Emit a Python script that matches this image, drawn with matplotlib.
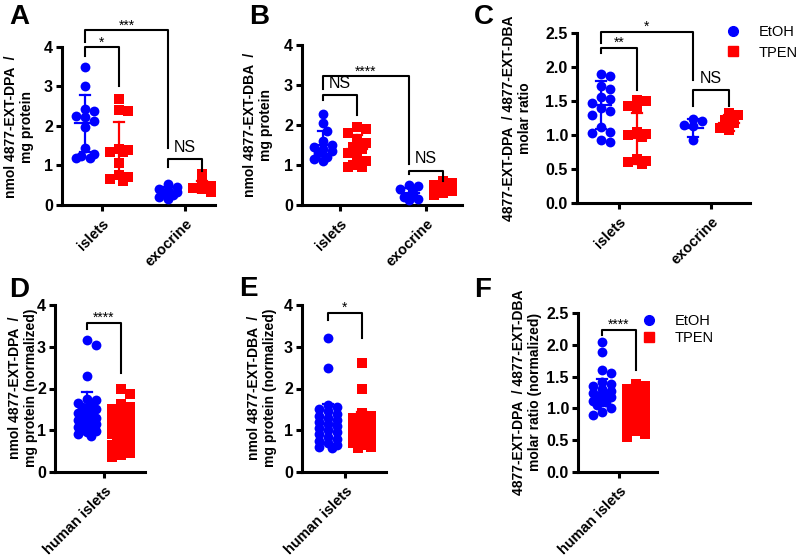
import numpy as np
import matplotlib.pyplot as plt
from matplotlib.lines import Line2D

plt.rcParams['font.family'] = ['Liberation Sans', 'DejaVu Sans']
plt.rcParams['font.weight'] = 'bold'

# ---- data ----
CATS_MOUSE = ["islets", "exocrine"]
CATS_HUMAN = ["human islets"]
GROUPS = ["EtOH", "TPEN"]

# A: nmol 4877-EXT-DPA / mg protein
A_ETOH_ISLETS = [3.5, 3.0, 2.42, 2.38, 2.25, 2.22, 2.12, 1.98, 1.45, 1.3, 1.25, 1.2, 1.18]
A_TPEN_ISLETS = [2.68, 2.4, 2.37, 1.43, 1.4, 1.35, 1.33, 1.06, 0.75, 0.7, 0.65, 0.6]
A_ETOH_EXO = [0.52, 0.46, 0.41, 0.37, 0.33, 0.3, 0.26, 0.21, 0.15]
A_TPEN_EXO = [0.78, 0.56, 0.48, 0.44, 0.4, 0.33]
A_ETOH_MEAN, A_ETOH_SD = [2.07, 0.34], [0.72, 0.11]
A_TPEN_MEAN, A_TPEN_SD = [1.40, 0.48], [0.71, 0.14]

# B: nmol 4877-EXT-DBA / mg protein
B_ETOH_ISLETS = [2.27, 2.05, 1.85, 1.6, 1.5, 1.45, 1.4, 1.35, 1.3, 1.2, 1.15, 1.1]
B_TPEN_ISLETS = [1.95, 1.9, 1.8, 1.65, 1.55, 1.45, 1.4, 1.3, 1.2, 1.1, 1.0, 0.95, 0.95]
B_ETOH_EXO = [0.5, 0.47, 0.4, 0.3, 0.2, 0.15, 0.12]
B_TPEN_EXO = [0.6, 0.55, 0.5, 0.45, 0.4, 0.35, 0.3, 0.25]
B_ETOH_MEAN, B_ETOH_SD = [1.5, 0.3], [0.36, 0.13]
B_TPEN_MEAN, B_TPEN_SD = [1.4, 0.42], [0.35, 0.1]

# C: DPA / DBA molar ratio
C_ETOH_ISLETS = [1.9, 1.87, 1.72, 1.67, 1.56, 1.53, 1.47, 1.4, 1.35, 1.3, 1.12, 1.05, 1.03, 0.92, 0.9]
C_TPEN_ISLETS = [1.52, 1.5, 1.43, 1.4, 1.05, 1.02, 1.0, 0.97, 0.65, 0.62, 0.6, 0.58]
C_ETOH_EXO = [1.23, 1.2, 1.15, 1.13, 0.92]
C_TPEN_EXO = [1.33, 1.3, 1.22, 1.18, 1.1, 1.08]
C_ETOH_MEAN, C_ETOH_SD = [1.44, 1.1], [0.35, 0.13]
C_TPEN_MEAN, C_TPEN_SD = [0.95, 1.18], [0.37, 0.12]

# D: human islets, DPA normalized
D_ETOH = [3.17, 3.03, 2.3, 1.75, 1.72, 1.65, 1.6, 1.55, 1.5, 1.45, 1.42, 1.4, 1.35, 1.3,
          1.28, 1.25, 1.2, 1.18, 1.15, 1.1, 1.08, 1.05, 1.0, 0.98, 0.95, 0.9, 0.87]
D_TPEN = [1.98, 1.87, 1.62, 1.55, 1.5, 1.45, 1.4, 1.35, 1.3, 1.25, 1.2, 1.15, 1.1, 1.05, 1.02,
          1.0, 0.97, 0.95, 0.9, 0.85, 0.8, 0.75, 0.7, 0.65, 0.6, 0.55, 0.5, 0.45, 0.4, 0.35]
D_MEAN, D_SD = [1.42, 1.0], [0.49, 0.4]

# E: human islets, DBA normalized
E_ETOH = [3.2, 2.5, 1.6, 1.55, 1.5, 1.45, 1.4, 1.35, 1.3, 1.25, 1.2, 1.15, 1.1, 1.05, 1.0,
          0.95, 0.9, 0.85, 0.8, 0.75, 0.7, 0.65, 0.6, 0.58]
E_TPEN = [2.6, 2.0, 1.42, 1.35, 1.3, 1.25, 1.2, 1.15, 1.1, 1.05, 1.0, 0.95, 0.9, 0.85, 0.8,
          0.75, 0.7, 0.65, 0.6, 0.57]
E_MEAN, E_SD = [1.15, 1.05], [0.49, 0.38]

# F: human islets, molar ratio normalized
F_ETOH = [2.05, 1.88, 1.6, 1.55, 1.42, 1.38, 1.35, 1.3, 1.28, 1.25, 1.22, 1.2, 1.18, 1.15,
          1.12, 1.1, 1.05, 1.0, 0.95, 0.9]
F_TPEN = [1.38, 1.35, 1.3, 1.25, 1.2, 1.15, 1.1, 1.05, 1.0, 0.95, 0.9, 0.85, 0.8, 0.75,
          0.7, 0.65, 0.6, 0.55]
F_MEAN, F_SD = [1.25, 1.0], [0.21, 0.37]

# significance brackets: (label, (cat, group), (cat, group), top, left end, right end)
A_BRACKETS = [("*", (0, 0), (0, 1), 4.0, 3.78, 3.02),
              ("***", (0, 0), (1, 0), 4.43, 4.13, 1.45),
              ("NS", (1, 0), (1, 1), 1.17, 0.95, 0.85)]
B_BRACKETS = [("NS", (0, 0), (0, 1), 2.74, 2.62, 2.24),
              ("****", (0, 0), (1, 0), 3.22, 2.91, 1.03),
              ("NS", (1, 0), (1, 1), 0.86, 0.78, 0.61)]
C_BRACKETS = [("**", (0, 0), (0, 1), 2.28, 2.2, 1.66),
              ("*", (0, 0), (1, 0), 2.52, 2.35, 1.81),
              ("NS", (1, 0), (1, 1), 1.66, 1.42, 1.43)]
D_BRACKETS = [("****", (0, 0), (0, 1), 3.58, 3.42, 2.37)]
E_BRACKETS = [("*", (0, 0), (0, 1), 3.82, 3.64, 3.2)]
F_BRACKETS = [("****", (0, 0), (0, 1), 2.24, 2.16, 1.61)]

COLORS = ["#0000ff", "#ff0000"]
MARKERS = ["o", "s"]

W, H = 800, 557
fig = plt.figure(figsize=(W / 100, H / 100), dpi=100)


def swarm(vals, ppu_y, diam=9.0, max_half=12.0):
    """Simple beeswarm: pixel x-offsets so points spread sideways."""
    vals = np.asarray(vals, float)
    order = np.argsort(vals)[::-1]
    step = diam * 0.5
    cands = [0.0]
    for k in range(1, 10):
        cands += [k * step, -k * step]
    cands = [c for c in cands if abs(c) <= max_half]
    placed, offs = [], np.zeros(len(vals))
    for i in order:
        y = vals[i] * ppu_y
        best, best_cost = 0.0, None
        for c in cands:
            cost = 0.0
            for px, py in placed:
                cost = max(cost, diam * 0.95 - np.hypot(c - px, y - py))
            if cost <= 0:
                best = c
                break
            if best_cost is None or cost < best_cost:
                best, best_cost = c, cost
        offs[i] = best
        placed.append((best, y))
    return offs


def draw_panel(rect, tick0, ppx, ylim, yticks, fmt, cats, groups, means, sds,
               brackets, off=0.2):
    left, top, right, bottom = rect
    ax = fig.add_axes([left / W, 1 - bottom / H, (right - left) / W, (bottom - top) / H])
    ax.set_xlim((left - tick0) / ppx, (right - tick0) / ppx)
    ax.set_ylim(*ylim)
    ppu_y = (bottom - top) / (ylim[1] - ylim[0])
    for ci in range(len(cats)):
        for gi in range(2):
            vals = groups[gi][ci]
            xc = ci + (2 * gi - 1) * off
            xs = xc + swarm(vals, ppu_y) / ppx
            ax.scatter(xs, vals, s=50, marker=MARKERS[gi], color=COLORS[gi],
                       linewidths=0, zorder=3, clip_on=False)
            m, sd = means[gi][ci], sds[gi][ci]
            hw, cw = 10 / ppx, 5 / ppx
            ax.plot([xc - hw, xc + hw], [m, m], color=COLORS[gi], lw=1.6, zorder=4)
            ax.plot([xc, xc], [m - sd, m + sd], color=COLORS[gi], lw=1.6, zorder=4)
            for e in (m - sd, m + sd):
                ax.plot([xc - cw, xc + cw], [e, e], color=COLORS[gi], lw=1.6, zorder=4)
    for lab, g1, g2, ytop, y1, y2 in brackets:
        x1 = g1[0] + (2 * g1[1] - 1) * off
        x2 = g2[0] + (2 * g2[1] - 1) * off
        ax.plot([x1, x1, x2, x2], [y1, ytop, ytop, y2], color='black', lw=1.5,
                clip_on=False, zorder=5)
        if lab == "NS":
            ax.annotate(lab, ((x1 + x2) / 2, ytop), xytext=(0, 3), textcoords='offset points',
                        ha='center', va='bottom', fontsize=11.5, fontweight='normal',
                        annotation_clip=False)
        else:
            ax.annotate(lab, ((x1 + x2) / 2, ytop), xytext=(0, 0.5), textcoords='offset points',
                        ha='center', va='baseline', fontsize=10, fontweight='normal',
                        annotation_clip=False)
    for s in ('top', 'right'):
        ax.spines[s].set_visible(False)
    for s in ('left', 'bottom'):
        ax.spines[s].set_linewidth(2.2)
    ax.set_xticks(range(len(cats)))
    ax.set_xticklabels(cats, rotation=45, ha='right', va='top', rotation_mode='anchor',
                       fontsize=10.5)
    ax.set_yticks(yticks)
    ax.set_yticklabels([fmt % v for v in yticks], fontsize=11.5)
    ax.tick_params(direction='out', length=4.5, width=2.2, pad=2)
    ax.tick_params(axis='x', pad=4)
    ax.patch.set_alpha(0)
    return ax


PANELS = [
    dict(rect=(62, 47, 215, 205), tick0=102, ppx=83, ylim=(0, 4), yticks=[0, 1, 2, 3, 4], fmt='%d',
         cats=CATS_MOUSE,
         groups=[[A_ETOH_ISLETS, A_ETOH_EXO], [A_TPEN_ISLETS, A_TPEN_EXO]],
         means=[A_ETOH_MEAN, A_TPEN_MEAN], sds=[A_ETOH_SD, A_TPEN_SD], brackets=A_BRACKETS,
         letter="A", letter_xy=(9, 24), ylabel="nmol 4877-EXT-DPA  /\nmg protein", ylabel_xy=(19, 127)),
    dict(rect=(302, 45, 462, 205), tick0=340, ppx=86, ylim=(0, 4), yticks=[0, 1, 2, 3, 4], fmt='%d',
         cats=CATS_MOUSE,
         groups=[[B_ETOH_ISLETS, B_ETOH_EXO], [B_TPEN_ISLETS, B_TPEN_EXO]],
         means=[B_ETOH_MEAN, B_TPEN_MEAN], sds=[B_ETOH_SD, B_TPEN_SD], brackets=B_BRACKETS,
         letter="B", letter_xy=(249, 24), ylabel="nmol 4877-EXT-DBA  /\nmg protein", ylabel_xy=(258, 125)),
    dict(rect=(577, 33, 750, 203), tick0=619, ppx=92, ylim=(0, 2.5),
         yticks=[0, 0.5, 1.0, 1.5, 2.0, 2.5], fmt='%.1f', cats=CATS_MOUSE,
         groups=[[C_ETOH_ISLETS, C_ETOH_EXO], [C_TPEN_ISLETS, C_TPEN_EXO]],
         means=[C_ETOH_MEAN, C_TPEN_MEAN], sds=[C_ETOH_SD, C_TPEN_SD], brackets=C_BRACKETS,
         letter="C", letter_xy=(474, 24), ylabel="4877-EXT-DPA  / 4877-EXT-DBA\nmolar ratio",
         ylabel_xy=(517, 118), legend=(726, 25, 0.45)),
    dict(rect=(55, 305, 145, 472), tick0=104, ppx=87, ylim=(0, 4), yticks=[0, 1, 2, 3, 4], fmt='%d',
         cats=CATS_HUMAN, groups=[[D_ETOH], [D_TPEN]],
         means=[[D_MEAN[0]], [D_MEAN[1]]], sds=[[D_SD[0]], [D_SD[1]]], brackets=D_BRACKETS,
         letter="D", letter_xy=(9, 297), ylabel="nmol 4877-EXT-DPA  /\nmg protein (normalized)",
         ylabel_xy=(23, 388)),
    dict(rect=(302, 305, 386, 472), tick0=345, ppx=87, ylim=(0, 4), yticks=[0, 1, 2, 3, 4], fmt='%d',
         cats=CATS_HUMAN, groups=[[E_ETOH], [E_TPEN]],
         means=[[E_MEAN[0]], [E_MEAN[1]]], sds=[[E_SD[0]], [E_SD[1]]], brackets=E_BRACKETS,
         letter="E", letter_xy=(239, 296), ylabel="nmol 4877-EXT-DBA  /\nmg protein (normalized)",
         ylabel_xy=(262, 388)),
    dict(rect=(578, 313, 657, 472), tick0=619, ppx=87, ylim=(0, 2.5),
         yticks=[0, 0.5, 1.0, 1.5, 2.0, 2.5], fmt='%.1f', cats=CATS_HUMAN,
         groups=[[F_ETOH], [F_TPEN]],
         means=[[F_MEAN[0]], [F_MEAN[1]]], sds=[[F_SD[0]], [F_SD[1]]], brackets=F_BRACKETS,
         letter="F", letter_xy=(474, 297), ylabel="4877-EXT-DPA  / 4877-EXT-DBA\nmolar ratio (normalized)",
         ylabel_xy=(527, 392), legend=(642, 314, 0.2)),
]

for p in PANELS:
    draw_panel(p['rect'], p['tick0'], p['ppx'], p['ylim'], p['yticks'], p['fmt'], p['cats'],
               p['groups'], p['means'], p['sds'], p['brackets'])
    fig.text(p['letter_xy'][0] / W, 1 - p['letter_xy'][1] / H, p['letter'], fontsize=20,
             fontweight='bold', ha='left', va='baseline')
    fig.text(p['ylabel_xy'][0] / W, 1 - p['ylabel_xy'][1] / H, p['ylabel'], rotation=90,
             ha='center', va='center', multialignment='center', fontsize=10, linespacing=1.2)
    if 'legend' in p:
        lx, ly, sp = p['legend']
        handles = [Line2D([], [], ls='', marker=MARKERS[i], color=COLORS[i], markersize=7)
                   for i in range(2)]
        fig.legend(handles, GROUPS, loc='upper left', bbox_to_anchor=(lx / W, 1 - ly / H),
                   frameon=False, borderpad=0, borderaxespad=0, handlelength=1.0,
                   handletextpad=1.25, labelspacing=sp,
                   prop={'size': 10.5, 'weight': 'normal'})

fig.savefig("out.png", dpi=100)
